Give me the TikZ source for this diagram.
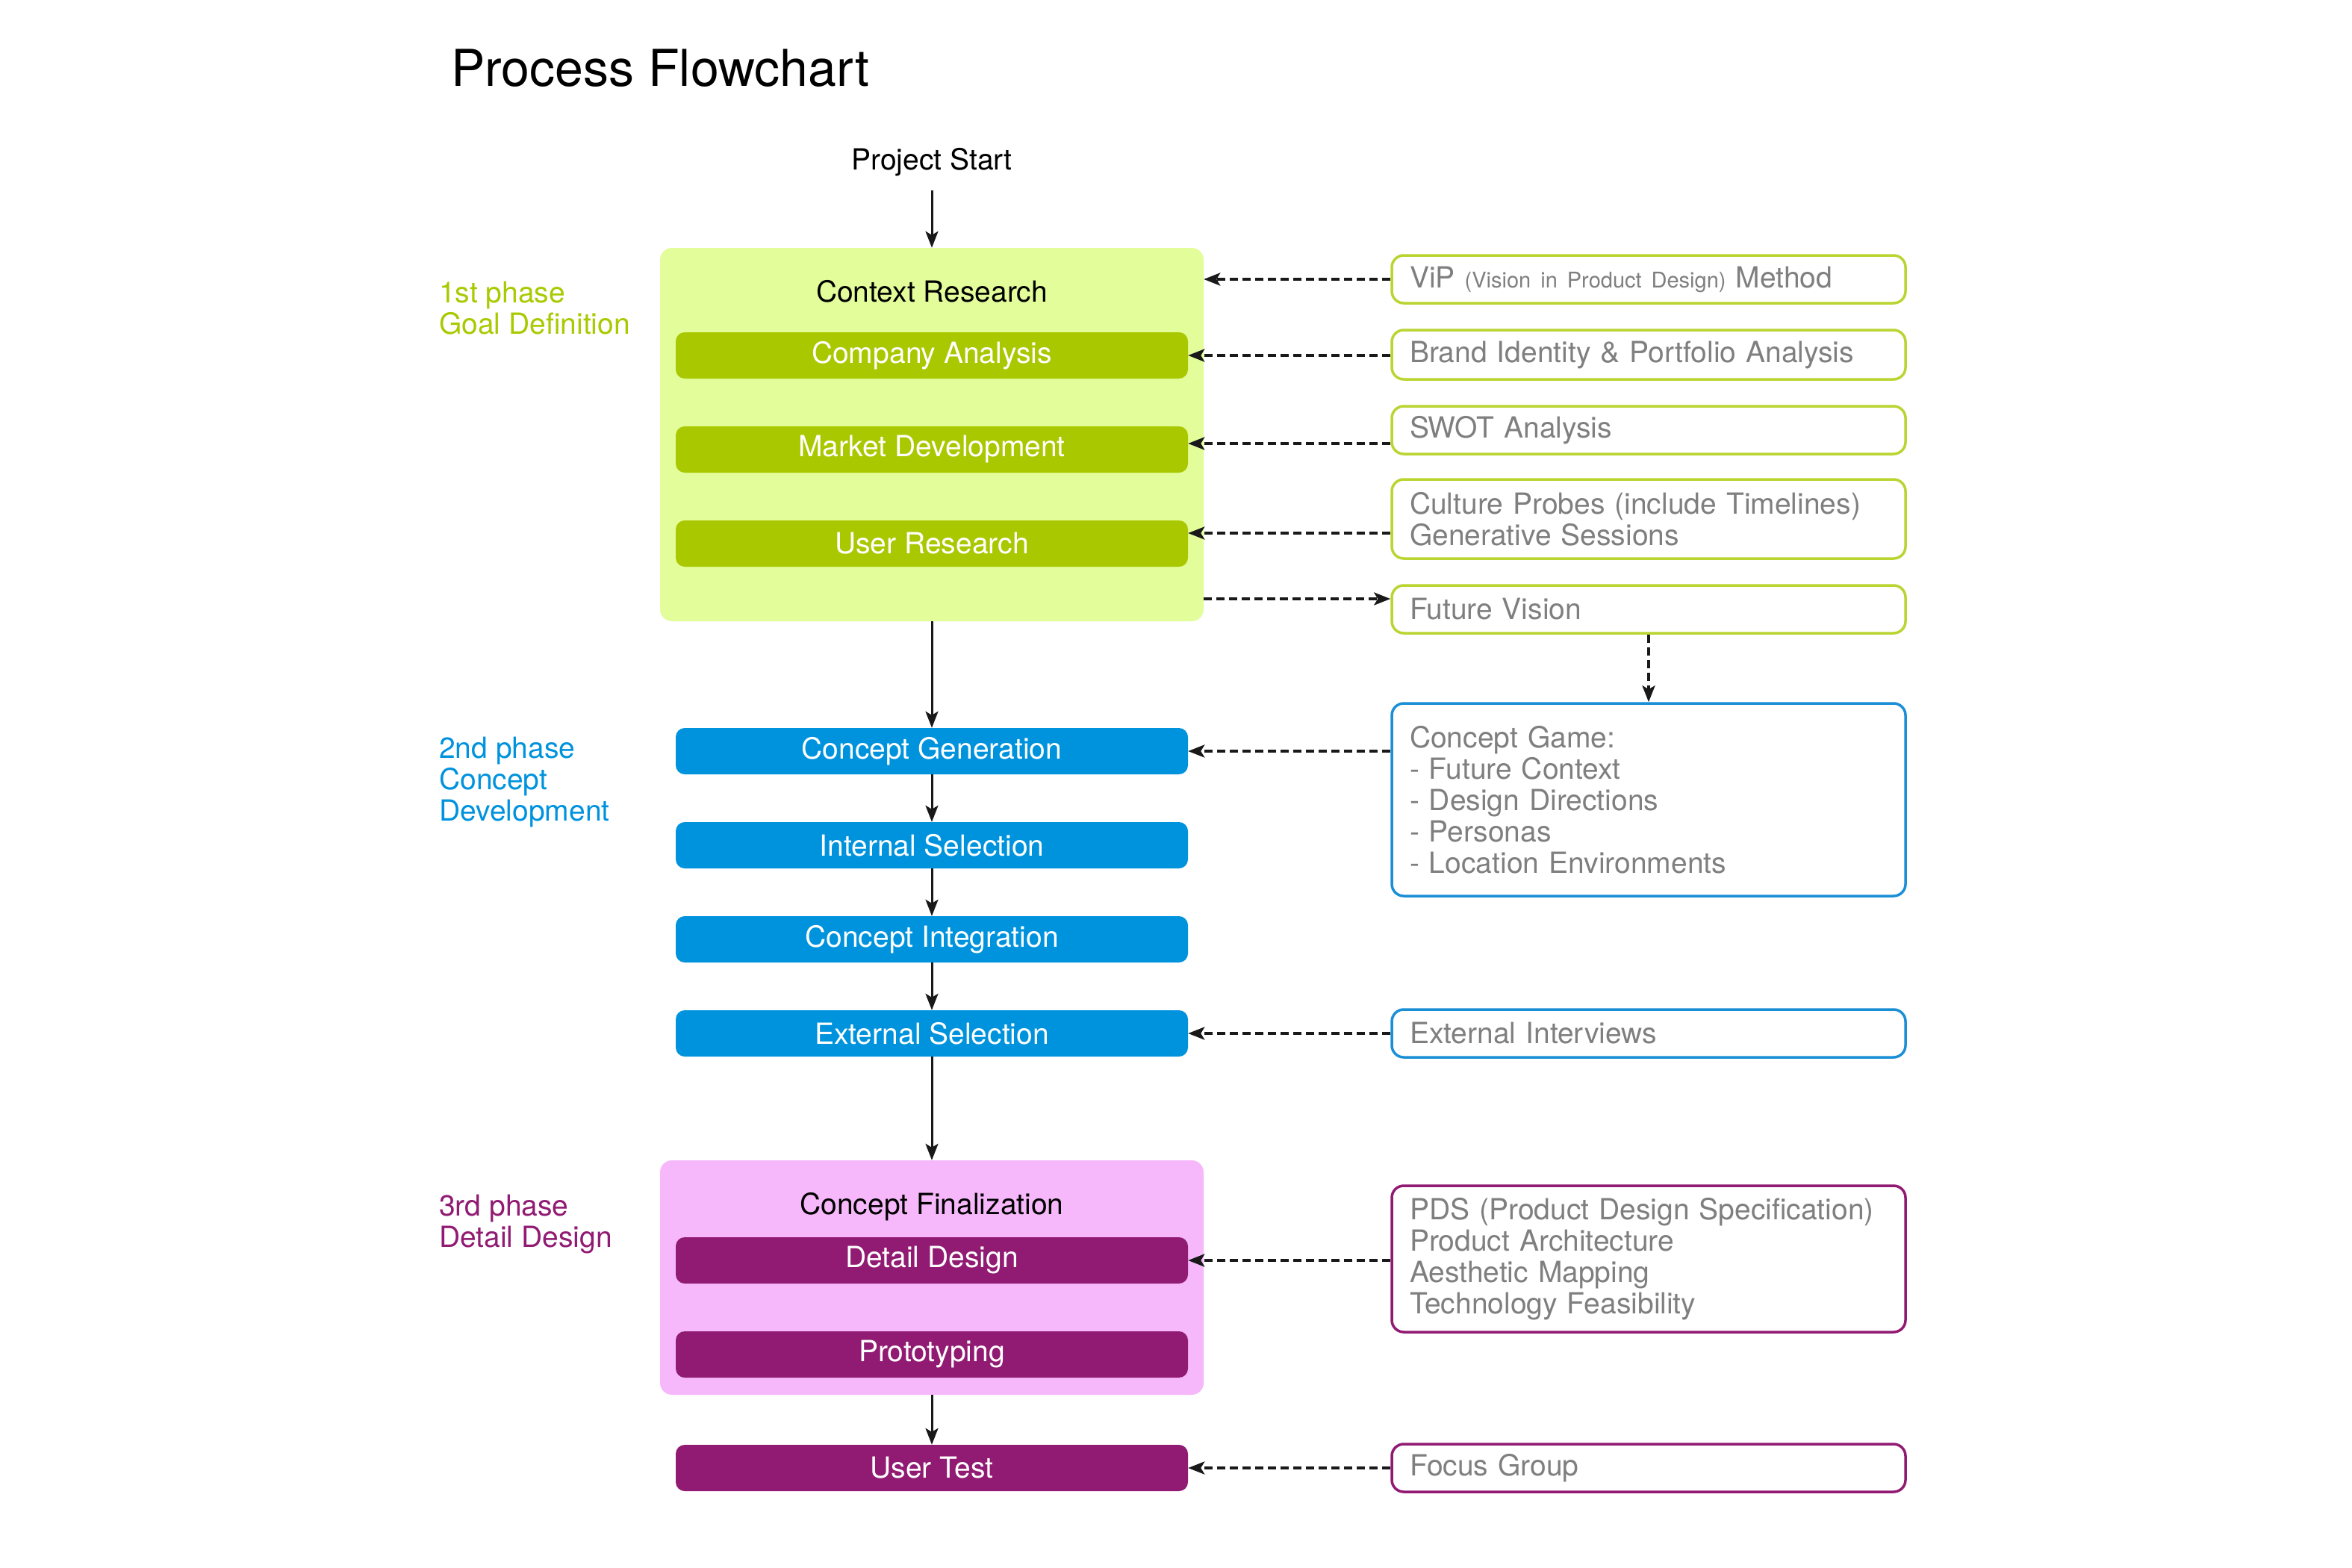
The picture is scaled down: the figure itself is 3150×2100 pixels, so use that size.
\documentclass[tikz,border=0pt]{standalone}
\usepackage{fontspec}
\setmainfont{TeX Gyre Heros}
\usetikzlibrary{arrows.meta}
\definecolor{contG}{HTML}{E2FD9A}
\definecolor{barG}{HTML}{AAC800}
\definecolor{lineG}{HTML}{BAD431}
\definecolor{phG}{HTML}{A8CA00}
\definecolor{blueM}{HTML}{0093DD}
\definecolor{lineB}{HTML}{1B8FD6}
\definecolor{contP}{HTML}{F6B8FA}
\definecolor{purM}{HTML}{911B73}
\definecolor{grayT}{HTML}{7F7F7F}
\begin{document}
\begin{tikzpicture}[x=1pt,y=-1pt,
  every node/.style={font=\fontsize{39}{42}\selectfont, inner sep=0pt},
  bar/.style={rectangle, rounded corners=12pt, minimum width=686pt, minimum height=62pt, text=white},
  cont/.style={rectangle, rounded corners=16pt, minimum width=728pt},
  rbox/.style={rectangle, rounded corners=16pt, draw=#1, line width=3.5pt, fill=white, minimum width=688pt, text width=640pt, align=left, text=grayT},
  arr/.style={-{Stealth[length=22pt,width=17pt,inset=5pt]}, line width=3pt, draw=black!90},
  darr/.style={arr, dash pattern=on 11pt off 6pt, line width=4pt},
  phase/.style={anchor=west, align=left}
]
\useasboundingbox (0,0) rectangle (3150,2100);
\fill[white] (0,0) rectangle (3150,2100);

% title
\node[anchor=base west, font=\fontsize{68}{72}\selectfont] (title) at (604,116) {Process Flowchart};
\node[anchor=base] (ps) at (1248,228) {Project Start};

% phase labels
\node[phase, text=phG] (ph1) at (588,413) {1st phase\\Goal Definition};
\node[phase, text=blueM] (ph2) at (588,1048) {2nd phase\\Concept\\Development};
\node[phase, text=purM] (ph3) at (588,1640) {3rd phase\\Detail Design};

% containers
\node[cont, fill=contG, minimum height=500pt] (cr) at (1248,582) {};
\node[anchor=base] (crt) at (1248,404) {Context Research};
\node[cont, fill=contP, minimum height=314pt] (cf) at (1248,1711) {};
\node[anchor=base] (cft) at (1248,1626) {Concept Finalization};

% bars
\node[bar, fill=barG] (ca) at (1248,476) {Company Analysis};
\node[bar, fill=barG] (md) at (1248,602) {Market Development};
\node[bar, fill=barG] (ur) at (1248,728) {User Research};
\node[bar, fill=blueM] (cgn) at (1248,1006) {Concept Generation};
\node[bar, fill=blueM] (is) at (1248,1132) {Internal Selection};
\node[bar, fill=blueM] (ci) at (1248,1258) {Concept Integration};
\node[bar, fill=blueM] (es) at (1248,1384) {External Selection};
\node[bar, fill=purM] (dd) at (1248,1688) {Detail Design};
\node[bar, fill=purM] (pr) at (1248,1814) {Prototyping};
\node[bar, fill=purM] (ut) at (1248,1966) {User Test};

% right boxes
\node[rbox=lineG, minimum height=64pt] (vip) at (2208,374) {ViP {\fontsize{29}{42}\selectfont(Vision in Product Design)} Method};
\node[rbox=lineG, minimum height=66pt] (brand) at (2208,475) {Brand Identity \& Portfolio Analysis};
\node[rbox=lineG, minimum height=64pt] (swot) at (2208,576) {SWOT Analysis};
\node[rbox=lineG, minimum height=106pt] (cul) at (2208,695) {Culture Probes (include Timelines)\\Generative Sessions};
\node[rbox=lineG, minimum height=64pt] (fv) at (2208,816) {Future Vision};
\node[rbox=lineB, minimum height=258pt] (cg) at (2208,1071) {Concept Game:\\- Future Context\\- Design Directions\\- Personas\\- Location Environments};
\node[rbox=lineB, minimum height=64pt] (ei) at (2208,1384) {External Interviews};
\node[rbox=purM, minimum height=196pt] (pds) at (2208,1686) {PDS (Product Design Specification)\\Product Architecture\\Aesthetic Mapping\\Technology Feasibility};
\node[rbox=purM, minimum height=64pt] (fg) at (2208,1966) {Focus Group};

% solid arrows
\draw[arr, shorten <=18pt] (ps.south) -- (cr.north);
\draw[arr] (cr.south) -- (cgn.north);
\draw[arr] (cgn.south) -- (is.north);
\draw[arr] (is.south) -- (ci.north);
\draw[arr] (ci.south) -- (es.north);
\draw[arr] (es.south) -- (cf.north);
\draw[arr] (cf.south) -- (ut.north);

% dashed arrows
\coordinate (ySW) at (0,594);
\coordinate (yCU) at (0,714);
\coordinate (yFV) at (0,802);
\draw[darr] (vip.west) -- (vip.west -| cr.east);
\draw[darr] (brand.west |- ca) -- (ca.east);
\draw[darr] (swot.west |- ySW) -- (md.east |- ySW);
\draw[darr] (cul.west |- yCU) -- (ur.east |- yCU);
\draw[darr] (cr.east |- yFV) -- (fv.west |- yFV);
\draw[darr] (fv.south) -- (cg.north);
\draw[darr] (cg.west |- cgn) -- (cgn.east);
\draw[darr] (ei.west |- es) -- (es.east);
\draw[darr] (pds.west |- dd) -- (dd.east);
\draw[darr] (fg.west |- ut) -- (ut.east);
\end{tikzpicture}
\end{document}
